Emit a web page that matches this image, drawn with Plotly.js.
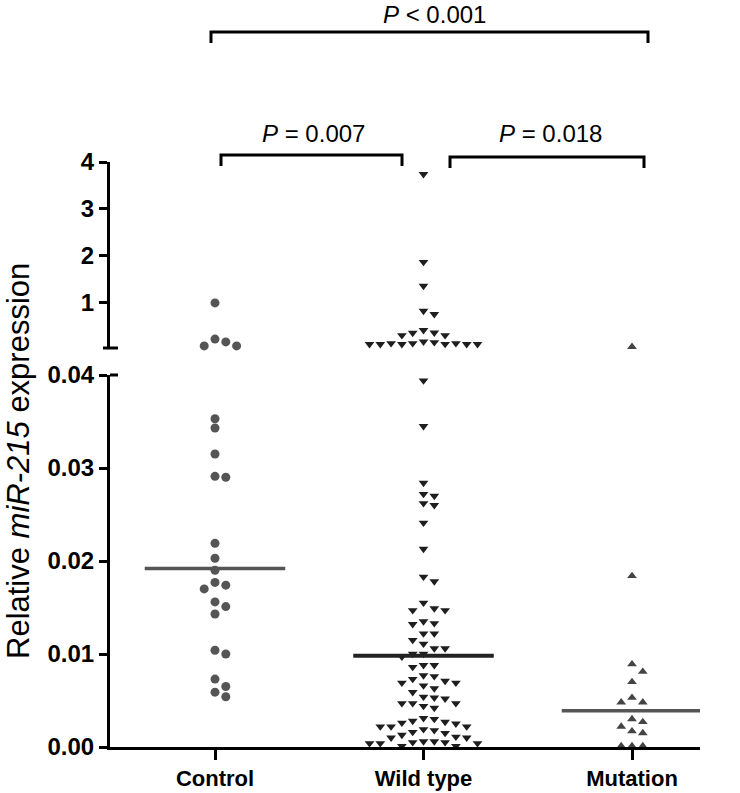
<!DOCTYPE html>
<html>
<head>
<meta charset="utf-8">
<script src="https://cdn.plot.ly/plotly-3.0.1.min.js"></script>
<style>html,body{margin:0;padding:0;background:#fff;}#chart{width:740px;height:793px;}</style>
</head>
<body>
<div id="chart"></div>
<script>
// ---------- data ----------
const categories = ['Control', 'Wild type', 'Mutation'];
const controlValues = [1.00, 0.17, 0.085, 0.085, 0.23,
  0.0353, 0.0343, 0.0315, 0.0291, 0.0290, 0.0219, 0.0203, 0.0190, 0.0177, 0.0174,
  0.0170, 0.0156, 0.0151, 0.0143, 0.0104, 0.0100, 0.0073, 0.0065, 0.0059, 0.0054];
const wildTypeValues = [3.74, 1.87, 1.36, 0.83, 0.76,
  0.42, 0.365, 0.36, 0.31, 0.31,
  0.175, 0.16, 0.14, 0.14, 0.14, 0.125, 0.12, 0.12, 0.12, 0.12, 0.12,
  0.0394, 0.0345, 0.0284, 0.0272, 0.0270, 0.0262, 0.0260, 0.0241, 0.0213,
  0.0183, 0.0178,
  0.0155, 0.0149, 0.0147, 0.0147,
  0.0135, 0.0133, 0.0132,
  0.0122, 0.0122, 0.0115, 0.0111,
  0.0106, 0.0106,
  0.0100, 0.0100, 0.0097,
  0.0088, 0.0088, 0.0086,
  0.0077, 0.0076, 0.0073, 0.0071, 0.0069, 0.0069,
  0.0066, 0.0063, 0.0059, 0.0054,
  0.0053, 0.0052, 0.0047, 0.0047, 0.0047, 0.0044, 0.0042,
  0.0031, 0.0030, 0.0028, 0.0027, 0.0026, 0.0025,
  0.0022, 0.0022, 0.0022, 0.0019, 0.0018, 0.0016, 0.0015, 0.0013,
  0.0011, 0.0010, 0.0010, 0.0006, 0.0006, 0.0005, 0.0005, 0.0004, 0.0004, 0.0004, 0.0001, 0.0001];
const mutationValues = [0.065,
  0.0184, 0.0089, 0.0081, 0.0070, 0.0053, 0.0048, 0.0048,
  0.0030, 0.0027, 0.0022, 0.0017, 0.0015, 0.0001, 0.0001, 0.0001];
const medianValues = [0.0192, 0.0098, 0.0039];
const pTexts = ['<i>P</i> < 0.001', '<i>P</i> = 0.007', '<i>P</i> = 0.018'];
const lowerTickVals = [0, 0.01, 0.02, 0.03, 0.04];
const lowerTickText = ['0.00', '0.01', '0.02', '0.03', '0.04'];
const upperTickVals = [1, 2, 3, 4];
const upperTickText = ['1', '2', '3', '4'];

// ---------- geometry (pixels) ----------
const W = 740, H = 793;
const mL = 110, mR = 40, mT = 0, mB = 46;
const plotW = W - mL - mR, plotH = H - mT - mB;
const lowerTopPx = 375, upperBotPx = 348, upperTopPx = 162, bottomPx = 747;
const lowerRange = [0, 0.04], upperRange = [0.04, 4];
const lowerDomain = [0, (bottomPx - lowerTopPx) / plotH];
const upperDomain = [(bottomPx - upperBotPx) / plotH, (bottomPx - upperTopPx) / plotH];
const pxPerUnit = 208.5;
const xRange = [(mL - 215) / pxPerUnit, (mL + plotW - 215) / pxPerUnit];
const slotStep = 10.8 / pxPerUnit;
const FONT = 'Liberation Sans, Arial, Helvetica, sans-serif';

function pixY(v) {
  if (v > lowerRange[1]) {
    return upperBotPx - (v - upperRange[0]) / (upperRange[1] - upperRange[0]) * (upperBotPx - upperTopPx);
  }
  return bottomPx - (v - lowerRange[0]) / (lowerRange[1] - lowerRange[0]) * (bottomPx - lowerTopPx);
}
function paperY(px) { return (bottomPx - px) / plotH; }
function paperX(px) { return (px - mL) / plotW; }
function dataX(px) { return (px - 215) / pxPerUnit; }

// simple deterministic beeswarm: slots 0,+1,-1,+2,-2,...
function swarm(values, center, minDy) {
  const order = values.map((v, i) => i).sort((a, b) => values[b] - values[a]);
  const placed = [];
  const xs = new Array(values.length);
  order.forEach(i => {
    const py = pixY(values[i]);
    for (let k = 0; k < 100; k++) {
      const slot = k === 0 ? 0 : (k % 2 === 1 ? (k + 1) / 2 : -k / 2);
      const hit = placed.some(p => p.slot === slot && Math.abs(p.py - py) < minDy);
      if (!hit) { placed.push({slot, py}); xs[i] = center + slot * slotStep; break; }
    }
  });
  return xs;
}

const groups = [
  {vals: controlValues, symbol: 'circle', size: 9, color: '#555555', minDy: 9},
  {vals: wildTypeValues, symbol: 'triangle-down', size: 8.5, color: '#1e1e1e', minDy: 8.5},
  {vals: mutationValues, symbol: 'triangle-up', size: 8.5, color: '#444444', minDy: 8.5}
];

const traces = [];
groups.forEach((g, gi) => {
  const xs = swarm(g.vals, gi, g.minDy);
  const lo = {x: [], y: []}, hi = {x: [], y: []};
  g.vals.forEach((v, i) => {
    const t = v > lowerRange[1] ? hi : lo;
    t.x.push(xs[i]); t.y.push(v);
  });
  [[lo, 'y'], [hi, 'y2']].forEach(([t, ax]) => {
    traces.push({
      type: 'scatter', mode: 'markers', x: t.x, y: t.y, yaxis: ax, xaxis: 'x',
      cliponaxis: false, hoverinfo: 'skip', showlegend: false,
      marker: {symbol: g.symbol, size: g.size, color: g.color, line: {width: 0}}
    });
  });
});
// median lines
const medianColors = ['#555555', '#222222', '#555555'];
medianValues.forEach((m, i) => {
  traces.push({
    type: 'scatter', mode: 'lines', x: [i - 0.337, i + 0.337], y: [m, m], yaxis: 'y',
    line: {color: medianColors[i], width: i === 1 ? 4 : 3.5}, hoverinfo: 'skip', showlegend: false, cliponaxis: false
  });
});

// brackets
const brackets = [
  {x0: 211, x1: 648, yTop: 32, yDrop: 43},
  {x0: 221, x1: 402, yTop: 155, yDrop: 166},
  {x0: 450, x1: 644, yTop: 157, yDrop: 168}
];
const pTextPos = [{x: 434, y: 14}, {x: 313, y: 133}, {x: 550, y: 133}];

const shapes = brackets.map(b => ({
  type: 'path', xref: 'x', yref: 'paper',
  path: `M ${dataX(b.x0)},${paperY(b.yDrop)} L ${dataX(b.x0)},${paperY(b.yTop)} L ${dataX(b.x1)},${paperY(b.yTop)} L ${dataX(b.x1)},${paperY(b.yDrop)}`,
  line: {color: '#000', width: 3}
}));
// axis break caps
shapes.push({type: 'line', xref: 'paper', yref: 'paper', x0: paperX(103), x1: paperX(118),
  y0: paperY(upperBotPx), y1: paperY(upperBotPx), line: {color: '#000', width: 3}});
shapes.push({type: 'line', xref: 'paper', yref: 'paper', x0: paperX(110), x1: paperX(118),
  y0: paperY(lowerTopPx), y1: paperY(lowerTopPx), line: {color: '#000', width: 3}});

const annotations = pTexts.map((t, i) => ({
  text: t, xref: 'paper', yref: 'paper', x: paperX(pTextPos[i].x), y: paperY(pTextPos[i].y),
  xanchor: 'center', yanchor: 'middle', showarrow: false,
  font: {family: FONT, size: 24, color: '#000'}
}));
annotations.push({
  text: 'Relative <i>miR-215</i> expression', xref: 'paper', yref: 'paper',
  x: paperX(18), y: paperY(461), xanchor: 'center', yanchor: 'middle', textangle: -90,
  showarrow: false, font: {family: FONT, size: 31, color: '#000'}
});

const yCommon = {
  showline: true, linewidth: 3, linecolor: '#000', ticks: 'outside', ticklen: 8, tickwidth: 3,
  tickcolor: '#000', showgrid: false, zeroline: false, anchor: 'x',
  tickfont: {family: FONT, size: 24, color: '#000', weight: 'bold'}, fixedrange: true
};

const layout = {
  width: W, height: H, margin: {l: mL, r: mR, t: mT, b: mB},
  paper_bgcolor: '#fff', plot_bgcolor: '#fff', showlegend: false,
  xaxis: {
    range: xRange, tickvals: [0, 1, 2], ticktext: categories, showline: true, linewidth: 3,
    linecolor: '#000', ticks: 'outside', ticklen: 10, tickwidth: 3, tickcolor: '#000',
    showgrid: false, zeroline: false, anchor: 'y',
    tickfont: {family: FONT, size: 22, color: '#000', weight: 'bold'}
  },
  yaxis: Object.assign({}, yCommon, {domain: lowerDomain, range: lowerRange,
    tickvals: lowerTickVals, ticktext: lowerTickText}),
  yaxis2: Object.assign({}, yCommon, {domain: upperDomain, range: upperRange,
    tickvals: upperTickVals, ticktext: upperTickText}),
  shapes: shapes, annotations: annotations
};

Plotly.newPlot('chart', traces, layout, {displayModeBar: false, staticPlot: true});
</script>
</body>
</html>
